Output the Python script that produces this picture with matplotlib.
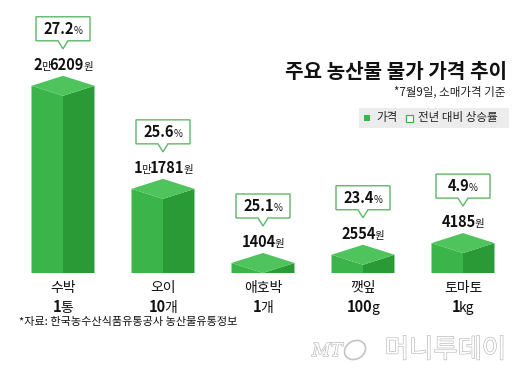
import matplotlib
matplotlib.use('Agg')
import matplotlib.pyplot as plt
from matplotlib.patches import Polygon, Rectangle, Ellipse
from matplotlib.transforms import ScaledTranslation
import matplotlib.patheffects as pe

plt.rcParams['font.family'] = ['Noto Sans CJK KR', 'DejaVu Sans']

# data
items = ['수박', '오이', '애호박', '깻잎', '토마토']
unit_num = ['1', '10', '1', '100', '1']
unit_txt = ['통', '개', '개', 'g', 'kg']
prices = [26209, 11781, 1404, 2554, 4185]   # 원
rates = [27.2, 25.6, 25.1, 23.4, 4.9]        # 전년 대비 상승률 %

TOP = '#4fc35c'
LEFT = '#3bb54a'
RIGHT = '#2a9a37'
EDGE = '#5cb868'

fig = plt.figure(figsize=(5.2, 3.75), dpi=100)
ax = fig.add_axes([0, 0, 1, 1])
ax.set_xlim(-0.63, 4.57)
ax.set_ylim(-14280, 38220)
ax.axis('off')

# pixel overlay for the decorative parts
pix = fig.add_axes([0, 0, 1, 1])
pix.set_xlim(0, 520)
pix.set_ylim(375, 0)
pix.axis('off')

PXX = 0.01   # x units per pixel
PXY = 140.0  # y units per pixel
renderer = fig.canvas.get_renderer()


def rich(axis, x, y, parts, gap=-1.0):
    # parts: (text, size, weight), drawn side by side, centred on x, baseline at y
    texts = []
    for s, fs, w in parts:
        texts.append(axis.text(x, y, s, fontsize=fs, fontweight=w, color='#111111',
                               ha='left', va='baseline'))
    widths = [t.get_window_extent(renderer).width + gap for t in texts]
    off = -(sum(widths) - gap) / 2
    for t, w in zip(texts, widths):
        t.set_transform(axis.transData + ScaledTranslation(off / 100, 0, fig.dpi_scale_trans))
        off += w


w = 0.315
D = 10 * PXY
for i, v in enumerate(prices):
    front = max(v - D, 0)
    ax.add_patch(Polygon([(i - w, 0), (i - w, v), (i, front), (i, 0)], closed=True,
                         facecolor=LEFT, edgecolor='none'))
    ax.add_patch(Polygon([(i, 0), (i, front), (i + w, v), (i + w, 0)], closed=True,
                         facecolor=RIGHT, edgecolor='none'))
    ax.add_patch(Polygon([(i - w, v), (i, v + D), (i + w, v), (i, front)], closed=True,
                         facecolor=TOP, edgecolor='none'))

    # price label
    if v >= 10000:
        parts = [(str(v // 10000), 10.5, 'bold'), ('만', 7.5, 'normal'),
                 ('%04d' % (v % 10000), 10.5, 'bold'), ('원', 7.5, 'normal')]
    else:
        parts = [(str(v), 10.5, 'bold'), ('원', 7.5, 'normal')]
    rich(ax, i, v + 16 * PXY, parts)

    # rate callout box
    box = [(-27, 45), (-5, 45), (0, 37), (5, 45), (27, 45), (27, 69), (-27, 69)]
    ax.add_patch(Polygon([(i + bx * PXX, v + by * PXY) for bx, by in box], closed=True,
                         facecolor='white', edgecolor=EDGE, lw=1.0))
    rich(ax, i, v + 52 * PXY, [('%.1f' % rates[i], 10.5, 'bold'), ('%', 7, 'normal')])

    # category labels
    ax.text(i, -15 * PXY, items[i], fontsize=10, ha='center', va='center', color='#111111')
    rich(ax, i, -39 * PXY, [(unit_num[i], 10.5, 'bold'), (unit_txt[i], 10, 'normal')])

# title block
pix.text(507, 72, '주요 농산물 물가 가격 추이', fontsize=14.5, fontweight='bold',
         ha='right', va='center', color='#111111')
pix.text(506, 92, '*7월9일, 소매가격 기준', fontsize=8.3, ha='right', va='center', color='#222222')

# legend
pix.add_patch(Rectangle((359, 108), 150, 20, facecolor='#ececec', edgecolor='none'))
pix.add_patch(Rectangle((364, 115), 6, 6, facecolor='#3bb54a', edgecolor='none'))
pix.text(376, 118, '가격', fontsize=8.3, ha='left', va='center', color='#222222')
pix.add_patch(Rectangle((406, 114.5), 7, 7, facecolor='white', edgecolor='#3bb54a', lw=0.9))
pix.text(418, 118, '전년 대비 상승률', fontsize=8.3, ha='left', va='center', color='#222222')

# source
pix.text(19, 322, '*자료: 한국농수산식품유통공사 농산물유통정보', fontsize=8,
         ha='left', va='center', color='#111111')

# watermark
outline = [pe.Stroke(linewidth=0.9, foreground='#b8b8b8'), pe.Normal()]
pix.text(312, 351, 'MT', fontsize=13, style='italic', family='DejaVu Serif', color='white',
         ha='left', va='center', path_effects=outline)
pix.add_patch(Ellipse((355, 350), 22, 18, angle=-30, facecolor='none', edgecolor='#c4c4c4', lw=1.2))
pix.text(506, 350, '머니투데이', fontsize=19, color='white', ha='right', va='center',
         path_effects=outline)

fig.savefig('out.png', dpi=100)
